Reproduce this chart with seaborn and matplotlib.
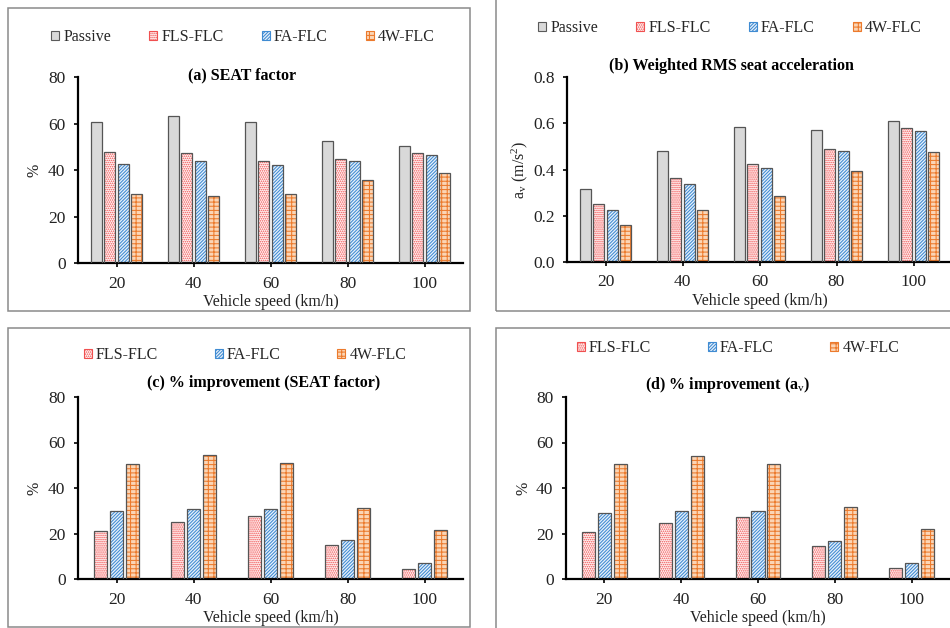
import numpy as np
import pandas as pd
import matplotlib
matplotlib.use("Agg")
import matplotlib.pyplot as plt
from matplotlib.patches import Patch, Rectangle
import seaborn as sns

# ---------------- data ----------------
speeds = ["20", "40", "60", "80", "100"]

seat_passive = [60.7, 63.2, 60.7, 52.5, 50.3]
seat_fls = [47.9, 47.2, 43.8, 44.7, 47.5]
seat_fa = [42.5, 43.7, 42.0, 43.7, 46.4]
seat_4w = [29.6, 28.7, 29.6, 35.9, 38.9]

av_passive = [0.316, 0.478, 0.583, 0.572, 0.608]
av_fls = [0.251, 0.362, 0.424, 0.490, 0.580]
av_fa = [0.223, 0.336, 0.408, 0.478, 0.567]
av_4w = [0.159, 0.223, 0.287, 0.392, 0.475]

imp_seat_fls = [21.2, 25.0, 27.5, 14.9, 4.5]
imp_seat_fa = [29.7, 30.6, 30.6, 17.0, 7.0]
imp_seat_4w = [50.6, 54.3, 51.0, 31.4, 21.6]

imp_av_fls = [20.6, 24.4, 27.2, 14.7, 4.7]
imp_av_fa = [29.1, 30.1, 30.1, 16.6, 6.9]
imp_av_4w = [50.4, 54.2, 50.7, 31.5, 21.9]

methods4 = ["Passive", "FLS-FLC", "FA-FLC", "4W-FLC"]
methods3 = ["FLS-FLC", "FA-FLC", "4W-FLC"]

# ---------------- style ----------------
sns.set_theme(style="white")
plt.rcParams["font.family"] = ["Liberation Serif", "DejaVu Serif"]
plt.rcParams["hatch.linewidth"] = 0.75
plt.rcParams["mathtext.fontset"] = "custom"
plt.rcParams["mathtext.rm"] = "Liberation Serif"
plt.rcParams["mathtext.it"] = "Liberation Serif:italic"
plt.rcParams["mathtext.bf"] = "Liberation Serif:bold"

STYLE = {
    "Passive": dict(face="#d9d9d9", hatch=None, hcol="#7f7f7f"),
    "FLS-FLC": dict(face="#fff3f3", hatch="........", hcol="#f05050"),
    "FA-FLC": dict(face="#e6f0fa", hatch="//////////", hcol="#3f8bd2"),
    "4W-FLC": dict(face="#fbd5b5", hatch="+++-", hcol="#ec7a2c"),
}

W, H = 950, 628
fig = plt.figure(figsize=(W / 100, H / 100), dpi=100)
fig.patch.set_facecolor("white")


def rect(l, t, r, b):
    return [l / W, 1 - b / H, (r - l) / W, (b - t) / H]


def fx(x):
    return x / W


def fy(y):
    return 1 - y / H


def frame(l, t, r, b):
    fig.add_artist(Rectangle((l / W, 1 - b / H), (r - l) / W, (b - t) / H,
                             transform=fig.transFigure, fill=False,
                             edgecolor="#8a8a8a", linewidth=1.1, zorder=0))


def panel(box, series, methods, ylim, yticks, yfmt, ylabel, title, title_xy,
          leg_xy, colspace, width, gap, ylpad):
    ax = fig.add_axes(rect(*box))
    rows = []
    for m, vals in zip(methods, series):
        for s, v in zip(speeds, vals):
            rows.append(dict(speed=s, method=m, value=v))
    df = pd.DataFrame(rows)
    sns.barplot(data=df, x="speed", y="value", hue="method", hue_order=methods,
                order=speeds, width=width, gap=gap, ax=ax, legend=False,
                palette=["white"] * len(methods), saturation=1)
    n = len(speeds)
    bars = [p for p in ax.patches if isinstance(p, Rectangle)]
    for i, p in enumerate(bars[: n * len(methods)]):
        m = methods[i // n]
        st = STYLE[m]
        p.set_facecolor(st["face"])
        p.set_edgecolor(st["hcol"])
        p.set_linewidth(0)
        if st["hatch"]:
            p.set_hatch(st["hatch"])
        ax.add_patch(Rectangle(p.get_xy(), p.get_width(), p.get_height(),
                               fill=False, edgecolor="#555555", linewidth=0.9,
                               zorder=3))
    ax.set_xlim(-0.5, n - 0.5)
    ax.set_ylim(*ylim)
    ax.set_yticks(yticks)
    ax.set_yticklabels([yfmt.format(v) for v in yticks])
    for sp in ["top", "right"]:
        ax.spines[sp].set_visible(False)
    for sp in ["left", "bottom"]:
        ax.spines[sp].set_color("black")
        ax.spines[sp].set_linewidth(1.6)
    ax.tick_params(axis="both", which="both", direction="out", length=3,
                   width=1.2, color="black", labelsize=12.5, pad=6,
                   left=True, bottom=True, labelcolor="#222222")
    ax.set_xlabel("Vehicle speed (km/h)", fontsize=11.5, labelpad=2,
                  color="#222222")
    ax.set_ylabel(ylabel, fontsize=11.5, labelpad=ylpad, color="#222222")
    ax.set_facecolor("white")
    fig.text(fx(title_xy[0]), fy(title_xy[1]), title, ha="center",
             va="center", fontsize=11.5, fontweight="bold", color="black")
    handles = []
    for m in methods:
        st = STYLE[m]
        handles.append(Patch(facecolor=st["face"], edgecolor=st["hcol"]
                             if st["hatch"] else "#5a5a5a",
                             hatch=st["hatch"], linewidth=0.8, label=m))
    fig.legend(handles=handles, loc="center",
               bbox_to_anchor=(fx(leg_xy[0]), fy(leg_xy[1])),
               ncol=len(methods), frameon=False, fontsize=11.5,
               handlelength=0.5, handleheight=0.5, handletextpad=0.25,
               columnspacing=colspace, borderpad=0, borderaxespad=0)
    return ax


frame(8, 8, 470, 311)
frame(496, -5, 975, 311)
frame(8, 328, 470, 627)
frame(496, 328, 975, 632)

panel((78, 77, 463, 263), [seat_passive, seat_fls, seat_fa, seat_4w], methods4,
      (0, 80), [0, 20, 40, 60, 80], "{:.0f}", "%", "(a) SEAT factor",
      (242, 75), (243, 37), 2.4, 0.69, 0.17, 4)

panel((567, 77, 952, 262), [av_passive, av_fls, av_fa, av_4w], methods4,
      (0, 0.8), [0, 0.2, 0.4, 0.6, 0.8], "{:.1f}",
      r"a$_{\mathrm{v}}$ (m/s$^{2}$)", "(b) Weighted RMS seat acceleration",
      (731, 66), (730, 28), 2.4, 0.69, 0.17, 2)

panel((78, 397, 463, 579), [imp_seat_fls, imp_seat_fa, imp_seat_4w], methods3,
      (0, 80), [0, 20, 40, 60, 80], "{:.0f}", "%",
      "(c) % improvement (SEAT factor)", (264, 383), (245, 355), 3.55, 0.62,
      0.18, 4)

panel((566, 397, 950, 579), [imp_av_fls, imp_av_fa, imp_av_4w], methods3,
      (0, 80), [0, 20, 40, 60, 80], "{:.0f}", "%",
      r"(d) % improvement (a$_{\mathrm{v}}$)", (728, 385), (738, 348), 3.55,
      0.62, 0.18, 3)

fig.savefig("out.png", dpi=100, facecolor="white")
